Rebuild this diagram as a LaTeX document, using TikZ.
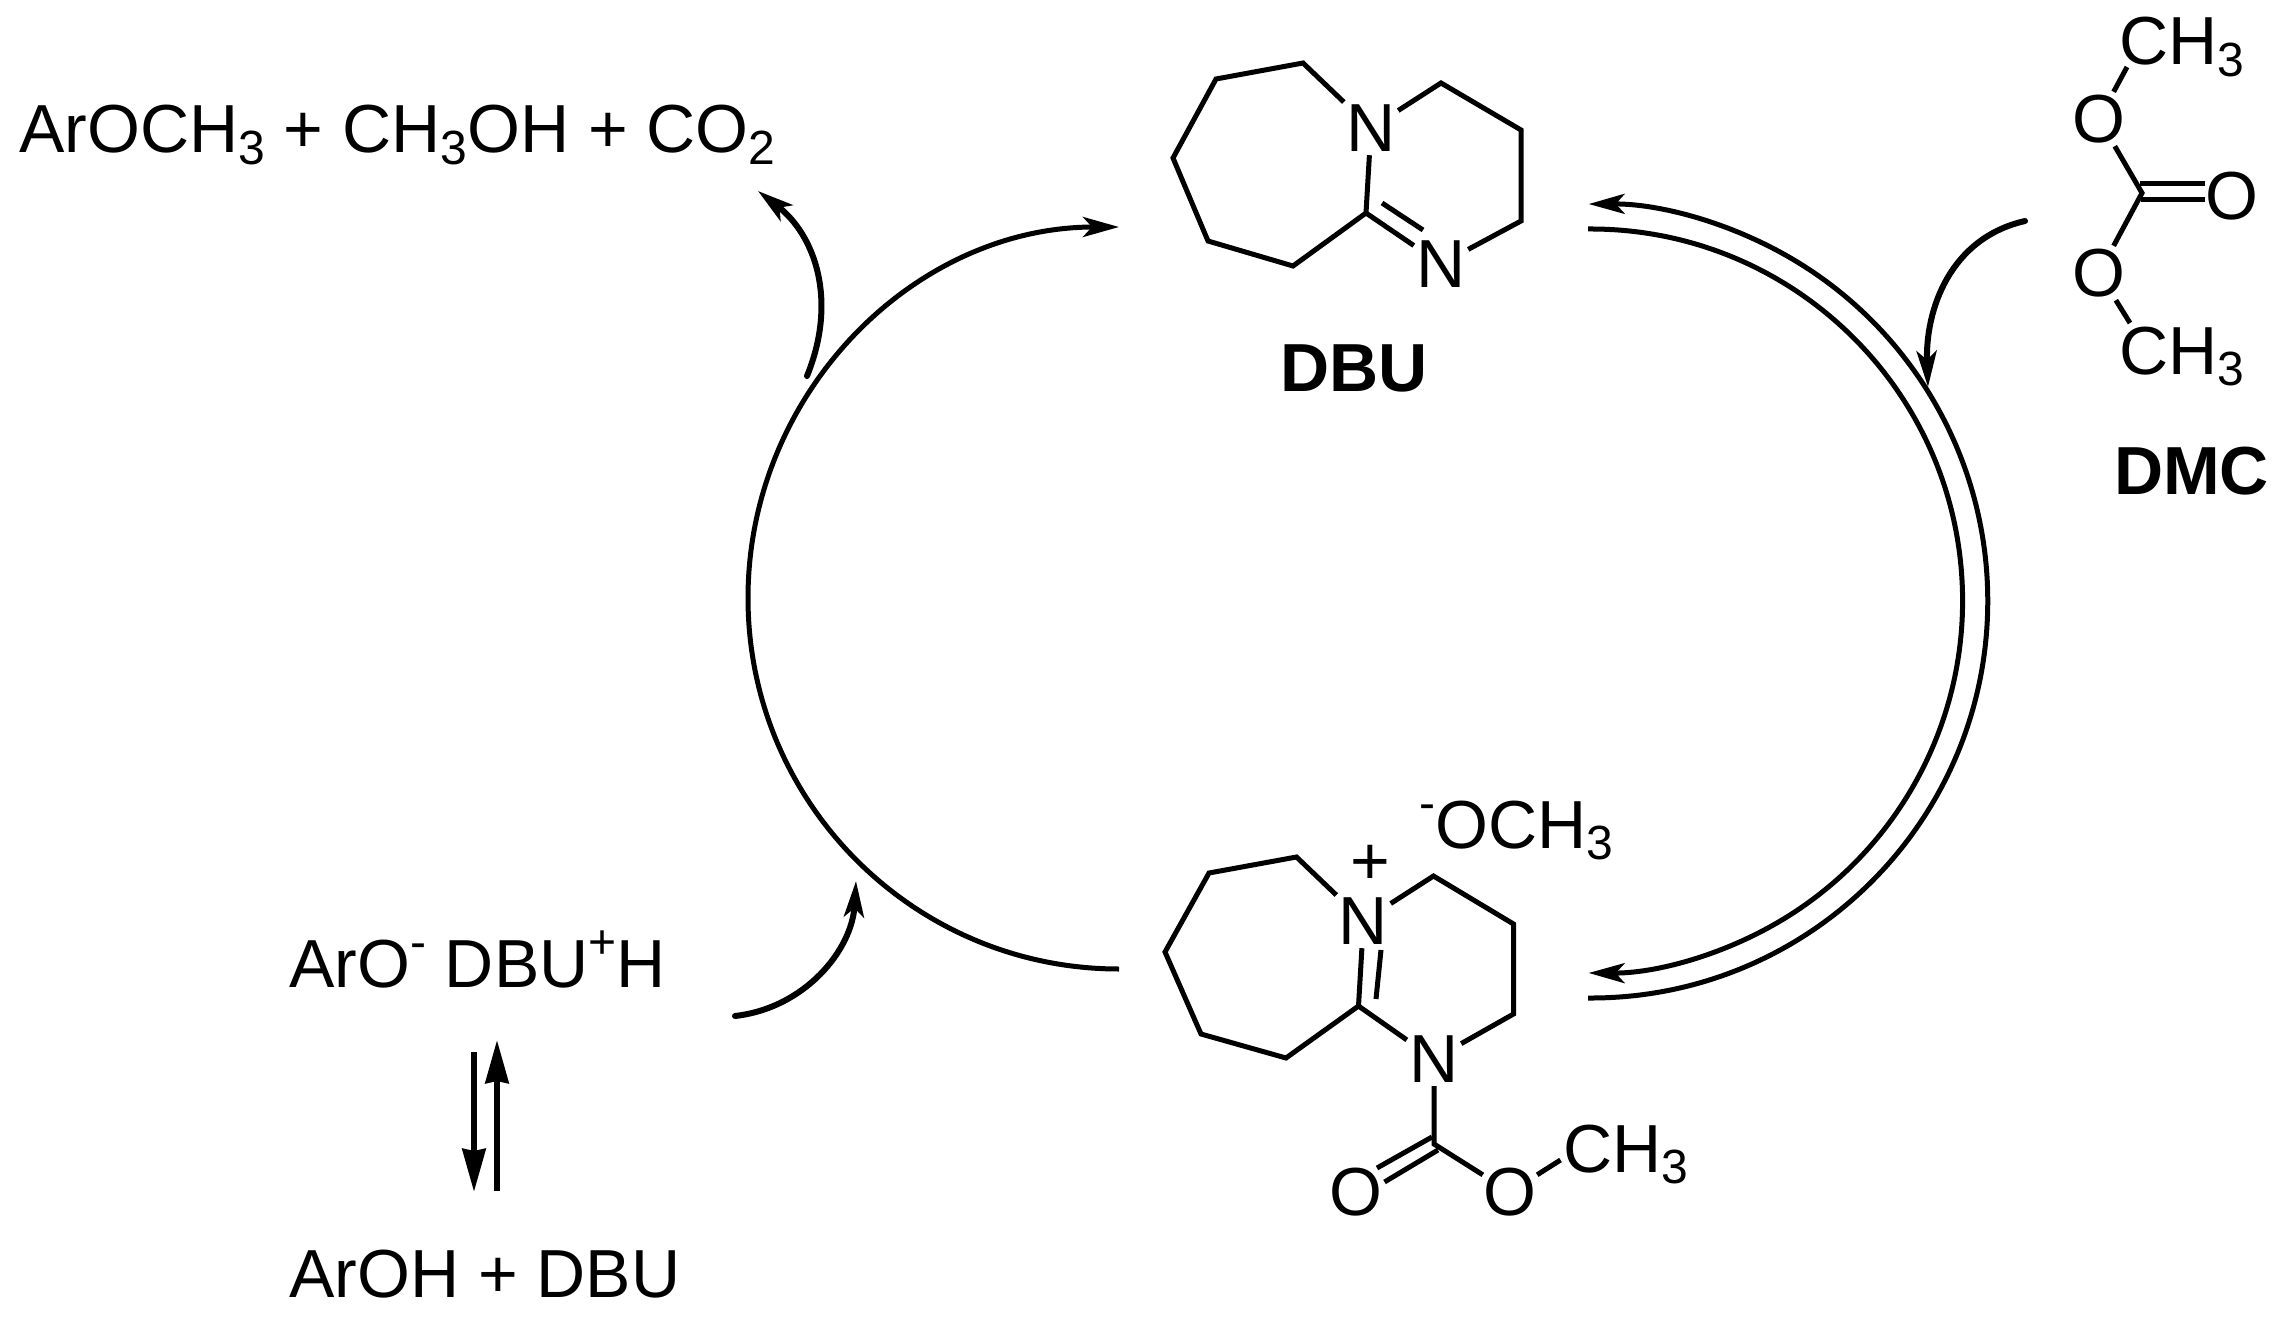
\documentclass[tikz,border=0pt]{standalone}
\usepackage{fontspec}
\setmainfont{Liberation Sans}
\usetikzlibrary{arrows.meta}
\newcommand{\bigfont}{\fontsize{68}{68}\selectfont}
\newcommand{\smallfont}{\fontsize{48}{48}\selectfont}
\newcommand{\subnum}[1]{\raisebox{-11.5pt}{\smallfont #1}}
\newcommand{\supchg}[1]{\raisebox{29pt}{\smallfont #1}}
\tikzset{
  x=1pt,y=-1pt,
  bond/.style={line width=5pt},
  atom/.style={inner sep=0pt,minimum width=54pt,minimum height=54pt,font=\bigfont},
  formula/.style={inner sep=0pt,anchor=base west,font=\bigfont},
  boldlabel/.style={inner sep=0pt,anchor=base west,font=\bigfont\bfseries},
  cyclearc/.style={line width=5pt},
  cycletip/.style={cyclearc,-{Stealth[length=36pt,width=20pt,inset=9pt]}},
  curved/.style={line width=6pt,line cap=round,-{Stealth[length=36pt,width=20pt,inset=9pt]}},
  eqarrow/.style={line width=6pt,-{Stealth[length=43pt,width=23pt,inset=2pt]}}
}
\begin{document}
\begin{tikzpicture}
\useasboundingbox (0,0) rectangle (2284,1324);
% ---------- DBU ----------
\coordinate (da) at (1303,63);
\coordinate (db) at (1216,79);
\coordinate (dc) at (1173,158);
\coordinate (dd) at (1208,241);
\coordinate (de) at (1293,266);
\coordinate (df) at (1366,213);
\coordinate (dg) at (1441,83);
\coordinate (dh) at (1521,130);
\coordinate (di) at (1521,221);
\coordinate (dx1) at (1382,203);
\coordinate (dx2) at (1423,230);
\node[atom] (dn1) at (1371,128) {N};
\node[atom] (dn2) at (1441,264) {N};
\draw[bond] (dn1) -- (da) -- (db) -- (dc) -- (dd) -- (de) -- (df) -- (dn2);
\draw[bond] (dn1) -- (dg) -- (dh) -- (di) -- (dn2);
\draw[bond] (df) -- (dn1);
\draw[bond] (dx1) -- (dx2);
\node[boldlabel] (dbulabel) at (1280,391) {DBU};
% ---------- DMC ----------
\node[atom] (mo1) at (2099,119) {O};
\node[atom] (mo2) at (2232,196) {O};
\node[atom] (mo3) at (2099,273) {O};
\coordinate (mc) at (2142,193);
\coordinate (mc1) at (2140,184);
\coordinate (mc2) at (2141,200);
\coordinate (mt1) at (2127,67);
\coordinate (mt2) at (2130,323);
\node[formula] (mch1) at (2119,65) {CH\subnum{3}};
\node[formula] (mch2) at (2119,374) {CH\subnum{3}};
\draw[bond] (mo1) -- (mt1);
\draw[bond] (mo1) -- (mc) -- (mo3);
\draw[bond] (mo3) -- (mt2);
\draw[bond] (mc1) -- (mc1 -| mo2.west);
\draw[bond] (mc2) -- (mc2 -| mo2.west);
\node[boldlabel] (dmclabel) at (2114,494) {DMC};
% ---------- intermediate ----------
\coordinate (ia) at (1296.5,857);
\coordinate (ib) at (1209,873);
\coordinate (ic) at (1165,952);
\coordinate (id) at (1201,1034);
\coordinate (ie) at (1286,1058);
\coordinate (if) at (1358.5,1006);
\coordinate (ig) at (1433.5,876);
\coordinate (ih) at (1513.5,924);
\coordinate (ii) at (1513.5,1014);
\coordinate (icc) at (1434,1144);
\coordinate (ix1) at (1376,999);
\coordinate (ix2) at (1381,950);
\coordinate (iy1) at (1432,1137);
\coordinate (iy2) at (1377,1168);
\coordinate (iy3) at (1438,1150);
\coordinate (iy4) at (1384.5,1182);
\coordinate (im1) at (1560.5,1160);
\node[atom] (in1) at (1363.5,921) {N};
\node[atom] (in3) at (1434,1059) {N};
\node[atom] (io1) at (1356,1192) {O};
\node[atom] (io2) at (1510,1192) {O};
\draw[bond] (in1) -- (ia) -- (ib) -- (ic) -- (id) -- (ie) -- (if) -- (in3);
\draw[bond] (in1) -- (ig) -- (ih) -- (ii) -- (in3);
\draw[bond] (if) -- (in1);
\draw[bond] (ix1) -- (ix2);
\draw[bond] (in3) -- (icc) -- (io2);
\draw[bond] (iy1) -- (iy2);
\draw[bond] (iy3) -- (iy4);
\draw[bond] (io2) -- (im1);
\node[formula] (ich3) at (1563,1172) {CH\subnum{3}};
\node[inner sep=0pt,anchor=base,font=\bigfont] (iplus) at (1370,884) {+};
\node[formula] (imeo) at (1419,848) {\supchg{-}OCH\subnum{3}};
% ---------- texts ----------
\node[formula] (prod) at (19,153) {ArOCH\subnum{3} + CH\subnum{3}OH + CO\subnum{2}};
\node[formula] (salt) at (289,987) {ArO\supchg{-} DBU\supchg{+}H};
\node[formula] (free) at (289,1297) {ArOH + DBU};
% ---------- cycle arcs ----------
\coordinate (oS) at (1588,998);
\coordinate (nS) at (1588,229);
\coordinate (lS) at (1119,969);
\draw[cycletip] (oS) arc[start angle=-90.4,end angle=90.3,radius=397pt];
\draw[cycletip] (nS) arc[start angle=90.4,end angle=-90.3,radius=372pt];
\draw[cycletip] (lS) arc[start angle=270,end angle=90,radius=371pt];
% ---------- curved arrows ----------
\coordinate (ca1) at (2025,221);
\coordinate (ca2) at (1928,387);
\coordinate (cb1) at (807,376);
\coordinate (cb2) at (758,191);
\coordinate (cc1) at (735,1016);
\coordinate (cc2) at (856,881);
\draw[curved] (ca1) .. controls (1950,238) and (1925,310) .. (ca2);
\draw[curved] (cb1) .. controls (838,300) and (815,235) .. (cb2);
\draw[curved] (cc1) .. controls (805,1008) and (852,950) .. (cc2);
% ---------- equilibrium ----------
\coordinate (e1) at (474,1052);
\coordinate (e2) at (474,1192);
\coordinate (e3) at (497,1191);
\coordinate (e4) at (497,1040);
\draw[eqarrow] (e1) -- (e2);
\draw[eqarrow] (e3) -- (e4);
\end{tikzpicture}
\end{document}
